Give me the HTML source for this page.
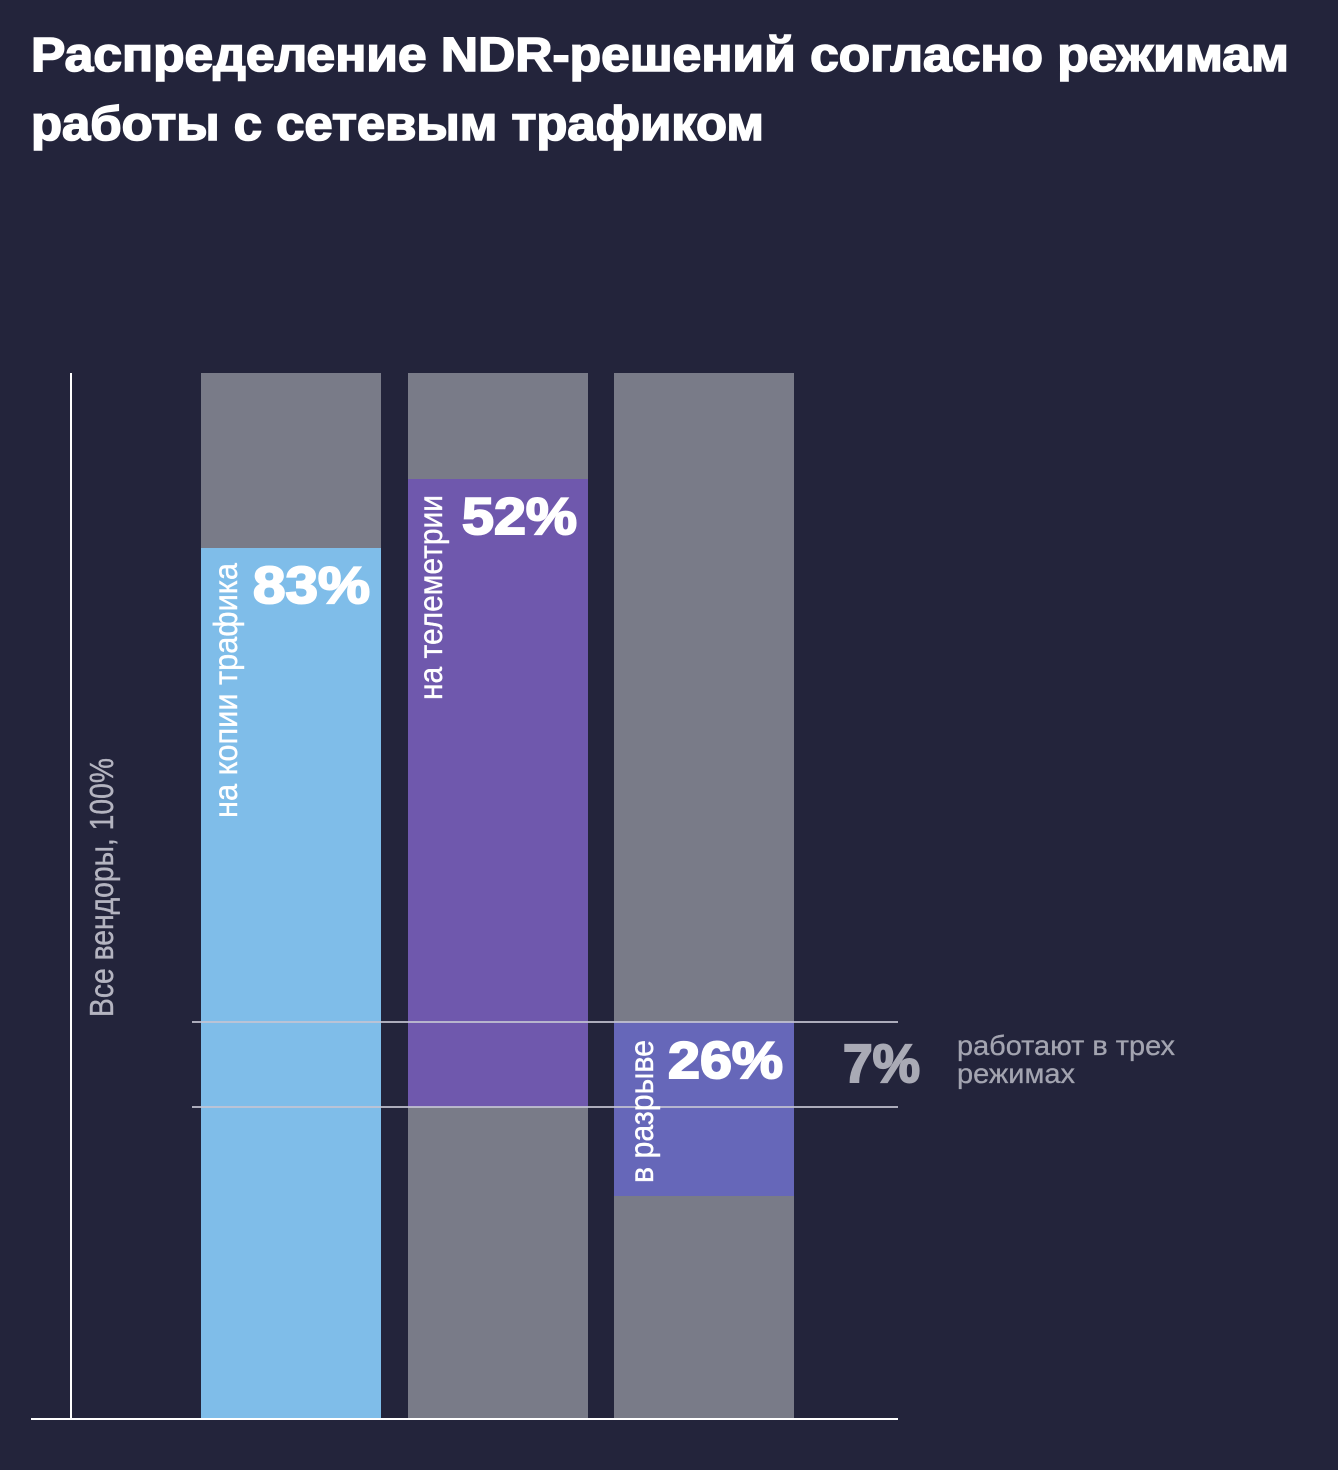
<!DOCTYPE html>
<html>
<head>
<meta charset="utf-8">
<style>
  html,body{margin:0;padding:0;background:#23243b;}
  svg{display:block;}
  text{font-family:"Liberation Sans","Noto Sans CJK SC",sans-serif;}
</style>
</head>
<body>
<svg width="1338" height="1470" viewBox="0 0 1338 1470" xmlns="http://www.w3.org/2000/svg">
  <rect x="0" y="0" width="1338" height="1470" fill="#23243b"/>

  <!-- Title -->
  <text x="31" y="71" font-size="48" font-weight="bold" fill="#ffffff" stroke="#ffffff" stroke-width="1.6" textLength="1258" lengthAdjust="spacingAndGlyphs">Распределение NDR-решений согласно режимам</text>
  <text x="31" y="140" font-size="48" font-weight="bold" fill="#ffffff" stroke="#ffffff" stroke-width="1.6" textLength="733" lengthAdjust="spacingAndGlyphs">работы с сетевым трафиком</text>

  <!-- Bar 1 -->
  <rect x="201" y="373" width="180" height="175" fill="#797b88"/>
  <rect x="201" y="548" width="180" height="870" fill="#7fbde9"/>

  <!-- Bar 2 -->
  <rect x="408" y="373" width="180" height="106" fill="#797b88"/>
  <rect x="408" y="479" width="180" height="628" fill="#6f58ad"/>
  <rect x="408" y="1107" width="180" height="311" fill="#797b88"/>

  <!-- Bar 3 -->
  <rect x="614" y="373" width="180" height="649" fill="#797b88"/>
  <rect x="614" y="1022" width="180" height="174" fill="#6667b9"/>
  <rect x="614" y="1196" width="180" height="222" fill="#797b88"/>

  <!-- Horizontal bracket lines -->
  <rect x="192" y="1021" width="706" height="2" fill="#c4c4d2" opacity="0.85"/>
  <rect x="192" y="1106" width="706" height="2" fill="#c4c4d2" opacity="0.85"/>

  <!-- Axes -->
  <rect x="70" y="373" width="2" height="1047" fill="#ffffff"/>
  <rect x="31" y="1418" width="867" height="2" fill="#ffffff"/>

  <!-- Rotated labels -->
  <text transform="translate(113,1017) rotate(-90)" font-size="33" fill="#b4b4c0" stroke="#b4b4c0" stroke-width="0.4" textLength="259" lengthAdjust="spacingAndGlyphs">Все вендоры, 100%</text>
  <text transform="translate(237,818) rotate(-90)" font-size="33" fill="#ffffff" stroke="#ffffff" stroke-width="0.4" textLength="255" lengthAdjust="spacingAndGlyphs">на копии трафика</text>
  <text transform="translate(442,700) rotate(-90)" font-size="33" fill="#ffffff" stroke="#ffffff" stroke-width="0.4" textLength="205" lengthAdjust="spacingAndGlyphs">на телеметрии</text>
  <text transform="translate(653,1183) rotate(-90)" font-size="33" fill="#ffffff" stroke="#ffffff" stroke-width="0.4" textLength="143" lengthAdjust="spacingAndGlyphs">в разрыве</text>

  <!-- Percentages -->
  <text x="253" y="603" font-size="52" font-weight="bold" fill="#ffffff" stroke="#ffffff" stroke-width="2" textLength="117" lengthAdjust="spacingAndGlyphs">83%</text>
  <text x="462" y="534" font-size="52" font-weight="bold" fill="#ffffff" stroke="#ffffff" stroke-width="2" textLength="115" lengthAdjust="spacingAndGlyphs">52%</text>
  <text x="668" y="1078" font-size="52" font-weight="bold" fill="#ffffff" stroke="#ffffff" stroke-width="2" textLength="115" lengthAdjust="spacingAndGlyphs">26%</text>
  <text x="843" y="1082" font-size="54" font-weight="bold" fill="#a9aab5" stroke="#a9aab5" stroke-width="2" textLength="77" lengthAdjust="spacingAndGlyphs">7%</text>

  <!-- Side note -->
  <text x="957" y="1055" font-size="28" fill="#a3a4b0" stroke="#a3a4b0" stroke-width="0.3" textLength="218" lengthAdjust="spacingAndGlyphs">работают в трех</text>
  <text x="957" y="1083" font-size="28" fill="#a3a4b0" stroke="#a3a4b0" stroke-width="0.3" textLength="118" lengthAdjust="spacingAndGlyphs">режимах</text>
</svg>
</body>
</html>
